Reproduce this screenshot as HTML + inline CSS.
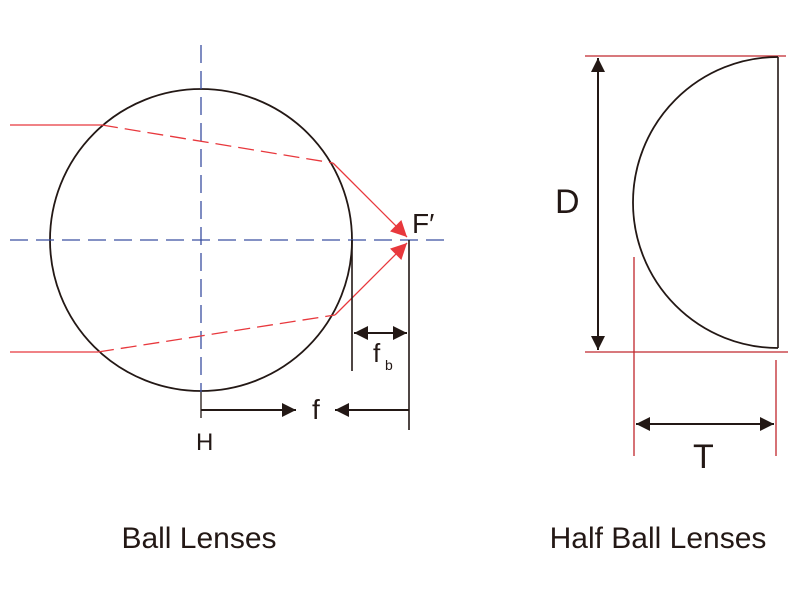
<!DOCTYPE html>
<html><head><style>body{margin:0;background:#fff}svg{display:block}</style></head><body>
<svg width="800" height="600" viewBox="0 0 800 600" xmlns="http://www.w3.org/2000/svg">
<defs>
<marker id="ab" viewBox="0 0 10 10" refX="10" refY="5" markerWidth="18" markerHeight="14" markerUnits="userSpaceOnUse" orient="auto-start-reverse"><path d="M0,0L10,5L0,10z" fill="#231815"/></marker>
<marker id="ar" viewBox="0 0 10 10" refX="10" refY="5" markerWidth="20" markerHeight="16" markerUnits="userSpaceOnUse" orient="auto"><path d="M0,0L10,5L0,10z" fill="#e8383d"/></marker>
</defs>
<g fill="none" stroke-width="1.3">
<circle cx="201" cy="240" r="151" stroke="#231815" stroke-width="1.8"/>
<line x1="201" y1="45" x2="201" y2="392" stroke="#3a4fa0" stroke-dasharray="18,8"/>
<line x1="10" y1="240" x2="448" y2="240" stroke="#3a4fa0" stroke-dasharray="18,8"/>
<polyline points="10,125 102,125" stroke="#e8383d"/>
<line x1="102" y1="125" x2="333" y2="163" stroke="#e8383d" stroke-dasharray="16,7"/>
<line x1="333" y1="163" x2="407" y2="237" stroke="#e8383d" marker-end="url(#ar)"/>
<polyline points="10,352 98,352" stroke="#e8383d"/>
<line x1="98" y1="352" x2="335" y2="315" stroke="#e8383d" stroke-dasharray="16,7"/>
<line x1="335" y1="315" x2="407" y2="243" stroke="#e8383d" marker-end="url(#ar)"/>
<line x1="352" y1="240" x2="352" y2="371" stroke="#231815" stroke-width="1.6"/>
<line x1="409" y1="240" x2="409" y2="430" stroke="#231815" stroke-width="1.6"/>
<line x1="354" y1="333" x2="407" y2="333" stroke="#231815" stroke-width="2" marker-start="url(#ab)" marker-end="url(#ab)"/>
<line x1="201" y1="392" x2="201" y2="418" stroke="#231815"/>
<line x1="201" y1="410" x2="296" y2="410" stroke="#231815" stroke-width="2" marker-end="url(#ab)"/>
<line x1="409" y1="410" x2="335" y2="410" stroke="#231815" stroke-width="2" marker-end="url(#ab)"/>

<line x1="585" y1="56" x2="786" y2="56" stroke="#c0272d"/>
<line x1="585" y1="352" x2="788" y2="352" stroke="#c0272d"/>
<line x1="634" y1="257" x2="634" y2="456" stroke="#c0272d"/>
<line x1="776" y1="360" x2="776" y2="456" stroke="#c0272d"/>
<line x1="778" y1="57" x2="778" y2="348" stroke="#231815" stroke-width="1.6"/>
<path d="M778,57 A145,145.5 0 0 0 778,348" stroke="#231815" stroke-width="1.8"/>
<line x1="598" y1="58" x2="598" y2="350" stroke="#231815" stroke-width="2" marker-start="url(#ab)" marker-end="url(#ab)"/>
<line x1="636" y1="424" x2="774" y2="424" stroke="#231815" stroke-width="2" marker-start="url(#ab)" marker-end="url(#ab)"/>
</g>
<g font-family="Liberation Sans, sans-serif" fill="#231815">
<text x="412" y="233" font-size="28">F′</text>
<text x="373" y="362" font-size="26">f</text>
<text x="385" y="370" font-size="14">b</text>
<text x="312" y="419" font-size="28">f</text>
<text x="196" y="450" font-size="24">H</text>
<text x="555" y="213" font-size="34">D</text>
<text x="693" y="468" font-size="34">T</text>
<text x="199" y="548" font-size="30" text-anchor="middle">Ball Lenses</text>
<text x="658" y="548" font-size="30" text-anchor="middle">Half Ball Lenses</text>
</g>
</svg>
</body></html>
